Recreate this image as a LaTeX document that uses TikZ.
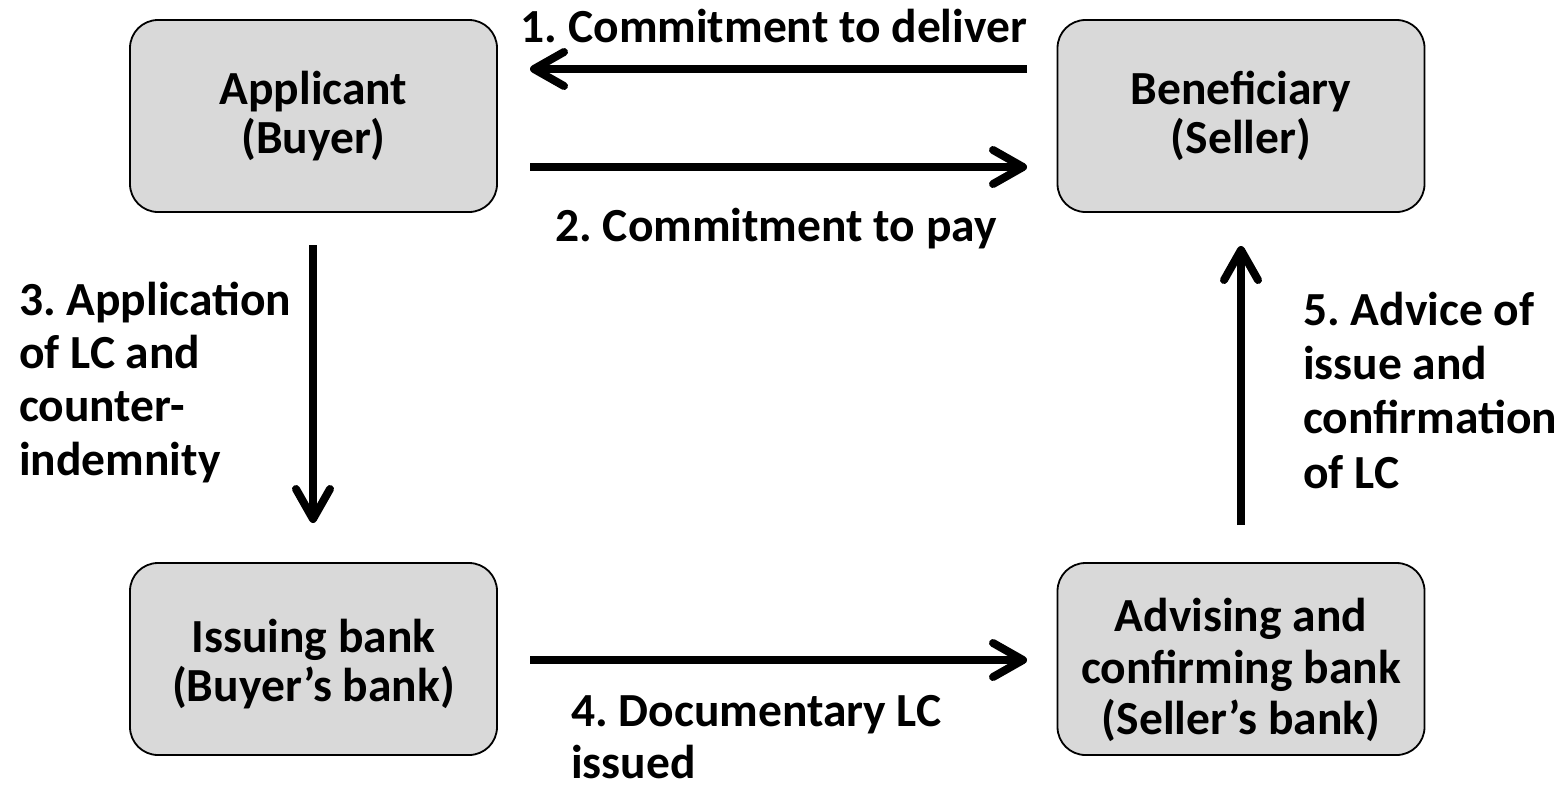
\documentclass[tikz,border=0pt]{standalone}
\usepackage{fontspec}
\setmainfont{Carlito}
\usetikzlibrary{arrows.meta}
\definecolor{boxgray}{HTML}{D9D9D9}
\frenchspacing
\begin{document}
\begin{tikzpicture}[x=1pt,y=-1pt,
  party/.style={draw=black, line width=1.8pt, fill=boxgray, rounded corners=28pt,
    minimum width=367pt, minimum height=192pt, inner sep=0pt},
  boxtext/.style={align=center, inner sep=0pt,
    font=\fontsize{47.5}{49.5}\selectfont\bfseries},
  lbl/.style={align=left, inner sep=0pt, font=\fontsize{47.5}{54}\selectfont\bfseries},
  flow/.style={line width=8pt, -{Straight Barb[length=30pt,width=34pt,round]}}
]
\useasboundingbox (0,0) rectangle (1562,793);
\node[party] (app) at (313.5,116) {};
\node[party] (ben) at (1241,116) {};
\node[party] (iss) at (313.5,659) {};
\node[party] (adv) at (1241,659) {};
\node[boxtext] (appt) at (app.center) {Applicant\\(Buyer)};
\node[boxtext] (bent) at (ben.center) {Beneficiary\\(Seller)};
\node[boxtext] (isst) at ([yshift=-5]iss.center) {Issuing bank\\(Buyer’s bank)};
\node[boxtext, font=\fontsize{47.5}{51.5}\selectfont\bfseries] (advt) at ([yshift=-11]adv.center) {Advising and\\confirming bank\\(Seller’s bank)};
% connector end points
\coordinate (a1s) at (1027,69);  \coordinate (a1e) at (530,69);
\coordinate (a2s) at (530,167);  \coordinate (a2e) at (1027,167);
\coordinate (a3s) at (313,245);  \coordinate (a3e) at (313,523);
\coordinate (a4s) at (530,660);  \coordinate (a4e) at (1027,660);
\coordinate (a5s) at (1241,525); \coordinate (a5e) at (1241,246);
\draw[flow] (a1s) -- (a1e);
\draw[flow] (a2s) -- (a2e);
\draw[flow] (a3s) -- (a3e);
\draw[flow] (a4s) -- (a4e);
\draw[flow] (a5s) -- (a5e);
\node[lbl, anchor=base] (l1) at (774,42) {1. Commitment to deliver};
\node[lbl, anchor=base] (l2) at (776,241) {2. Commitment to pay};
\node[lbl, anchor=base west, font=\fontsize{47.5}{53.3}\selectfont\bfseries] (l3) at (19,475) {3. Application\\of LC and\\counter-\\indemnity};
\node[lbl, anchor=base west, font=\fontsize{47.5}{52}\selectfont\bfseries] (l4) at (571,778) {4. Documentary LC\\issued};
\node[lbl, anchor=base west, font=\fontsize{47.5}{54.3}\selectfont\bfseries] (l5) at (1303,488) {5. Advice of\\issue and\\confirmation\\of LC};
\end{tikzpicture}
\end{document}
